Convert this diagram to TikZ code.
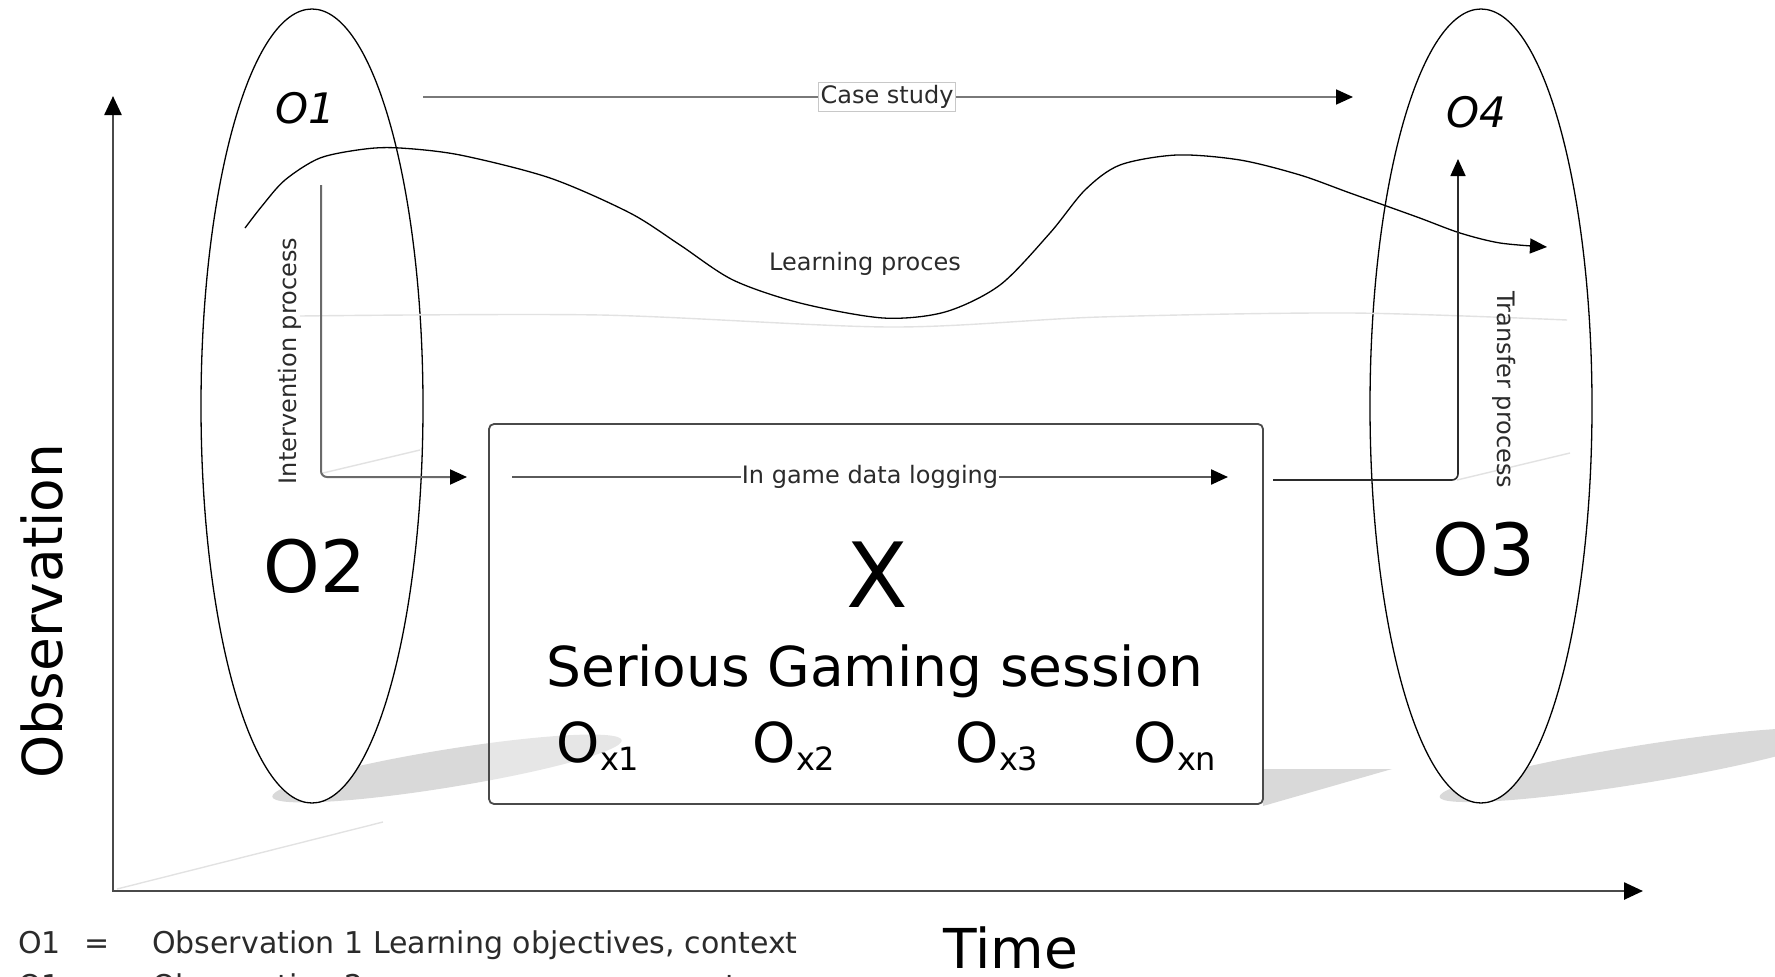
\documentclass[tikz,border=0pt]{standalone}
\usepackage{fontspec}
\setmainfont{DejaVu Sans}
\usetikzlibrary{arrows.meta,shapes.geometric}
\definecolor{shade}{HTML}{D9D9D9}
\definecolor{faint}{HTML}{E2E2E2}
\definecolor{axisc}{HTML}{4A4A4A}
\definecolor{flowc}{HTML}{6A6A6A}
\definecolor{txt}{HTML}{2B2B2B}
\definecolor{labelborder}{HTML}{C8C8C8}
\newcommand\myfs[1]{\fontsize{#1}{#1}\selectfont}
\begin{document}
\begin{tikzpicture}[x=1pt,y=-1pt,
  tip/.style={-{Triangle[length=17pt,width=15pt,color=black]}},
  axisline/.style={draw=axisc,line width=2.5pt,{Triangle[length=19pt,width=17pt,color=black]}-{Triangle[length=19pt,width=17pt,color=black]}},
  flow/.style={draw=flowc,line width=2pt,tip},
  oval/.style={draw=black,line width=1.3pt,fill=white,ellipse,minimum width=222pt,minimum height=794pt,inner sep=0pt},
  faintline/.style={draw=faint,line width=1.4pt},
  shadowfill/.style={fill=shade},
  small/.style={text=txt,font=\myfs{24},inner sep=0pt},
  big/.style={text=black,inner sep=0pt},
  legend/.style={text=txt,font=\myfs{30},inner sep=0pt},
]
\useasboundingbox (0,0) rectangle (1775,977);
\clip (0,0) rectangle (1775,977);

% shadows
\fill[shadowfill, rotate around={9.2:(447,768.5)}] (447,768.5) ellipse (177pt and 19pt);
\fill[shadowfill, rotate around={9.2:(1637,765)}] (1637,765) ellipse (200pt and 19pt);
\fill[shadowfill] (1263,769) -- (1392,769) -- (1263,806) -- cycle;

% ovals
\node[oval] (ovalL) at (312,406) {};
\node[oval] (ovalR) at (1481,406) {};

% faint perspective lines
\draw[faintline] plot[smooth] coordinates {(300,316) (600,315) (890,327) (1100,317) (1350,313) (1567,320)};
\draw[faintline] (323,473) -- (420,450);
\draw[faintline] (1457,480) -- (1570,453);
\draw[faintline] (117,889) -- (383,822);

% game box
\node[draw=axisc, line width=1.8pt, rounded corners=5pt, fill=white, fill opacity=0.35,
      minimum width=774pt, minimum height=380pt, inner sep=0pt] (sgbox) at (876,614) {};

% axes
\coordinate (origin) at (113,891);
\coordinate (ytop) at (113,96);
\coordinate (xend) at (1643,891);
\draw[axisline] (ytop) -- (origin) -- (xend);

% case study
\coordinate (cs1) at (423,97);
\coordinate (cs2) at (1353,97);
\draw[flow, line width=1.8pt, draw=flowc!90] (cs1) -- (cs2);
\node[small, draw=labelborder, line width=1pt, fill=white, text height=18pt, text depth=5.5pt,
      inner xsep=2.5pt, inner ysep=3pt] (cslabel) at (887,97) {Case study};

% learning curve
\draw[line width=1.3pt, tip] plot[smooth] coordinates {
  (245,228) (262,206) (285,180) (320,158) (365,149) (400,148) (460,155)
  (550,178) (630,213) (680,245) (733,280) (800,303) (883,318) (945,312)
  (1000,285) (1050,233) (1085,190) (1120,165) (1177,155) (1240,160)
  (1300,175) (1350,193) (1417,217) (1460,233) (1500,243) (1547,247)};
\node[small, anchor=base] (lp) at (865,270) {Learning proces};

% intervention
\coordinate (iv1) at (321,185);
\coordinate (iv2) at (467,477);
\draw[flow, rounded corners=6pt] (iv1) |- (iv2);
\node[small, rotate=90, anchor=base] (ivl) at (296,361) {Intervention process};

% in game data logging
\coordinate (ig1) at (512,477);
\coordinate (ig2) at (1228,477);
\draw[flow, line width=2.3pt, draw=flowc!85!black] (ig1) -- (ig2);
\node[small, fill=white, inner xsep=1pt, inner ysep=2pt] (iglabel) at (870,477) {In game data logging};

% transfer
\coordinate (tr1) at (1273,480);
\coordinate (tr2) at (1458,159);
\draw[flow, draw=txt, line width=1.6pt, rounded corners=6pt] (tr1) -| (tr2);
\node[small, rotate=-90, anchor=base] (trl) at (1497,390) {Transfer process};

% observation labels
\node[big, font=\myfs{42}\itshape, anchor=base] (o1) at (305,123) {O1};
\node[big, font=\myfs{42}\itshape, anchor=base] (o4) at (1476,127) {O4};
\node[big, font=\myfs{72}, anchor=base] (o2) at (315,592) {O2};
\node[big, font=\myfs{72}, anchor=base] (o3) at (1484,575) {O3};

% box contents
\node[big, font=\myfs{90}, anchor=base] (xlab) at (877,607) {X};
\node[big, font=\myfs{55}, anchor=base] (sgs) at (875,686) {Serious Gaming session};
\node[big, font=\myfs{55}, anchor=base] (ox1) at (598,762) {O\raisebox{-8pt}{\myfs{32}x1}};
\node[big, font=\myfs{55}, anchor=base] (ox2) at (794,762) {O\raisebox{-8pt}{\myfs{32}x2}};
\node[big, font=\myfs{55}, anchor=base] (ox3) at (997,762) {O\raisebox{-8pt}{\myfs{32}x3}};
\node[big, font=\myfs{55}, anchor=base] (oxn) at (1175,762) {O\raisebox{-8pt}{\myfs{32}xn}};

% axis titles
\node[big, font=\myfs{55}, rotate=90, anchor=base] (obs) at (62,611) {Observation};
\node[big, font=\myfs{55}, anchor=base] (time) at (1011,968) {Time};

% legend
\node[legend, anchor=base west] (lg1a) at (18,953) {O1};
\node[legend, anchor=base] (lg1b) at (97,953) {=};
\node[legend, anchor=base west] (lg1c) at (152,953) {Observation 1 Learning objectives, context};
\node[legend, anchor=base west] (lg2a) at (18,996) {O1};
\node[legend, anchor=base] (lg2b) at (97,996) {=};
\node[legend, anchor=base west] (lg2c) at (152,996) {Observation 2 pre-game measurement};
\end{tikzpicture}
\end{document}
